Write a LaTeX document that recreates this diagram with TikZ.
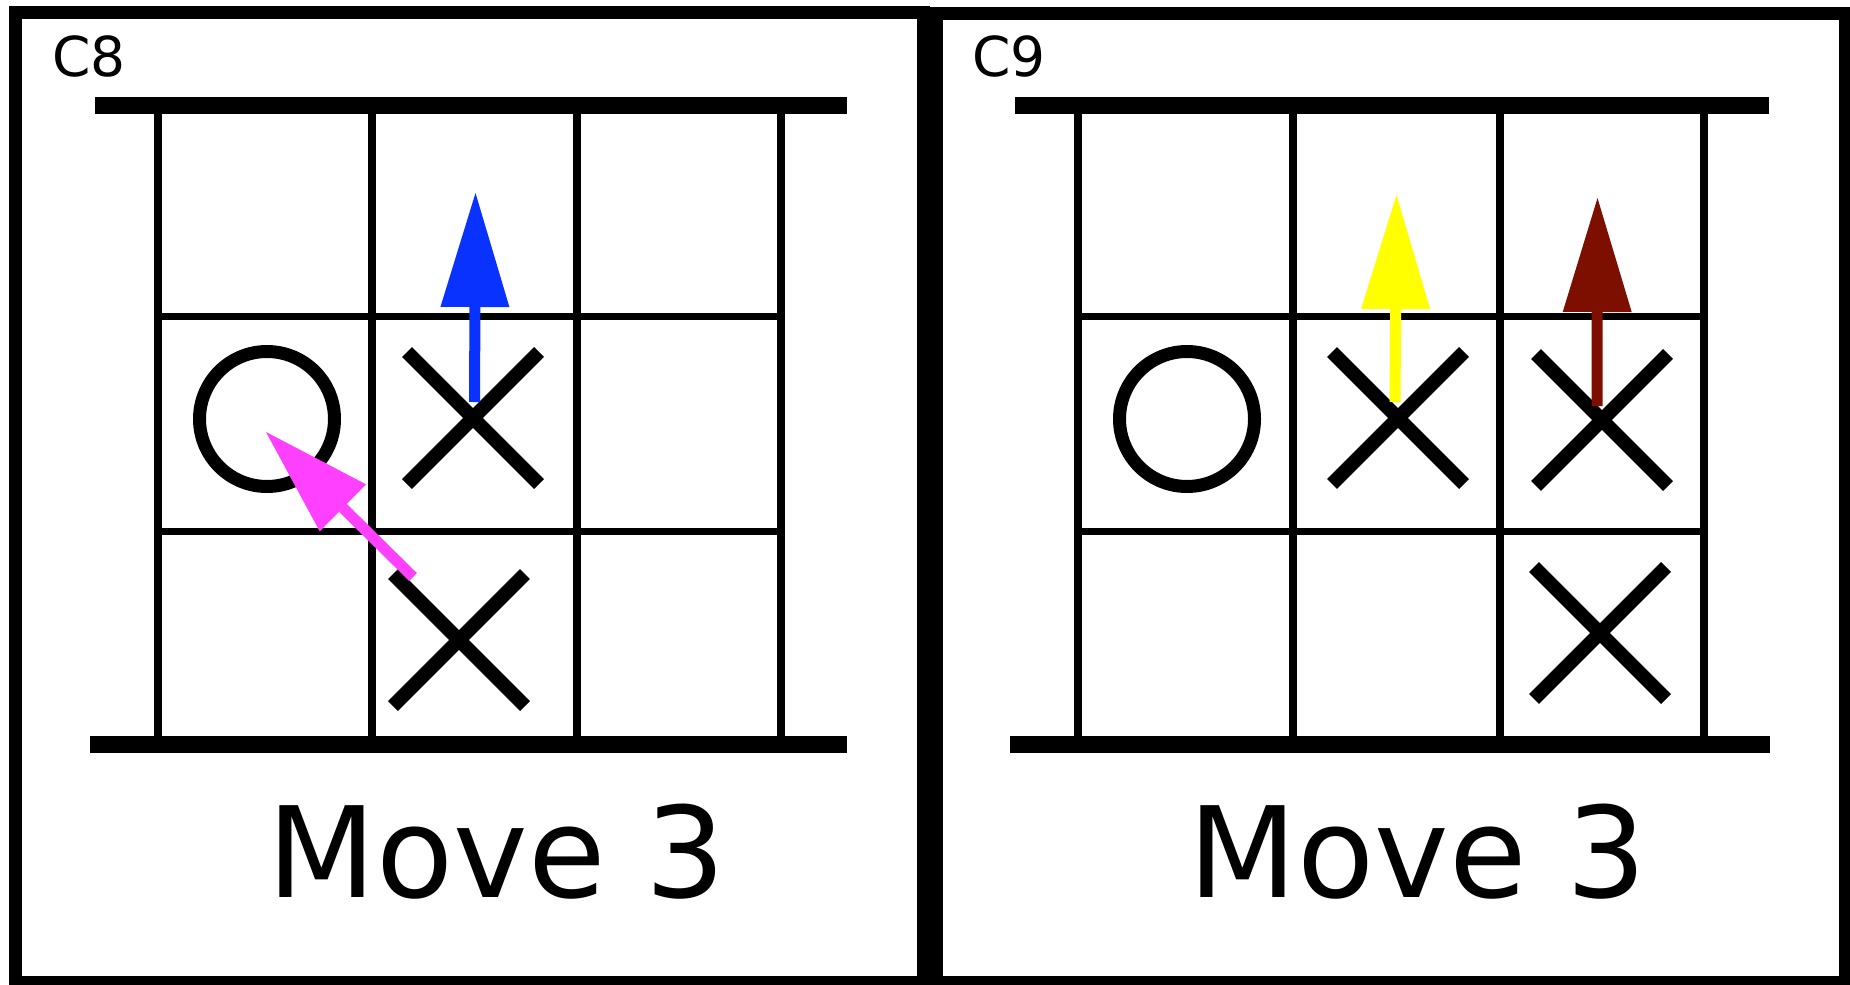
\documentclass[tikz,border=0pt]{standalone}
\usepackage{fontspec}
\setmainfont{DejaVu Sans}
\usetikzlibrary{arrows.meta}
\definecolor{mvblue}{RGB}{10,50,255}
\definecolor{mvyellow}{RGB}{255,255,0}
\definecolor{mvmaroon}{RGB}{125,15,0}
\definecolor{mvpink}{RGB}{255,64,255}
\begin{document}
\begin{tikzpicture}[x=1pt,y=-1pt,
  panel/.style={draw=black,line width=13pt},
  bar/.style={line width=17pt},
  gline/.style={line width=7.5pt},
  hline/.style={line width=7pt},
  osym/.style={circle,draw=black,line width=13pt,minimum size=135pt,inner sep=0pt},
  xsym/.pic={\draw[line width=14pt] (-66,-66) -- (66,66) (-66,66) -- (66,-66);},
  mvarrow/.style={line width=11pt,-{Triangle[length=114pt,width=69pt,line width=0pt]}},
  movetxt/.style={font=\fontsize{126}{130}\selectfont,anchor=base,inner sep=0pt},
  lbl/.style={font=\fontsize{55}{60}\selectfont,anchor=base west,inner sep=0pt}]
\useasboundingbox (0,0) rectangle (1850,985);
\fill[white] (0,0) rectangle (1850,985);
% panels
\draw[panel] (15.5,12.5) rectangle (923.5,982.5);
\draw[panel] (936,13.5) rectangle (1845.5,982.5);
% labels
\node[lbl] (c8) at (52,76) {C8};
\node[lbl] (c9) at (972,76) {C9};
% left board
\draw[bar] (95,105) -- (847,105);
\draw[bar] (90,744) -- (847,744);
\foreach \x in {158,372,577,781} \draw[gline] (\x,105) -- (\x,744);
\foreach \y in {316,531.5} \draw[hline] (158,\y) -- (781,\y);
% right board
\draw[bar] (1015,105) -- (1769,105);
\draw[bar] (1010,744) -- (1770,744);
\foreach \x in {1078,1293,1500,1704} \draw[gline] (\x,105) -- (\x,744);
\foreach \y in {316,531.5} \draw[hline] (1078,\y) -- (1704,\y);
% symbols left
\node[osym] (o1) at (267,419) {};
\pic at (473,418) {xsym};
\pic at (459,640) {xsym};
% symbols right
\node[osym] (o2) at (1187,419) {};
\pic at (1398,418) {xsym};
\pic at (1602,420) {xsym};
\pic at (1600,633) {xsym};
% arrows
\coordinate (bt) at (474.5,402);
\coordinate (bh) at (475.5,193);
\coordinate (yt) at (1395,402);
\coordinate (yh) at (1396.5,195);
\coordinate (rt) at (1597,406);
\coordinate (rh) at (1597.5,198);
\coordinate (pt) at (413,577);
\coordinate (ph) at (266,432);
\draw[mvarrow,mvblue] (bt) -- (bh);
\draw[mvarrow,mvyellow] (yt) -- (yh);
\draw[mvarrow,mvmaroon] (rt) -- (rh);
\draw[line width=11pt,mvpink,-{Triangle[length=108pt,width=66pt,line width=0pt]}] (pt) -- (ph);
% move texts
\node[movetxt] (m1) at (497,897) {Move 3};
\node[movetxt] (m2) at (1418,897) {Move 3};
\end{tikzpicture}
\end{document}
